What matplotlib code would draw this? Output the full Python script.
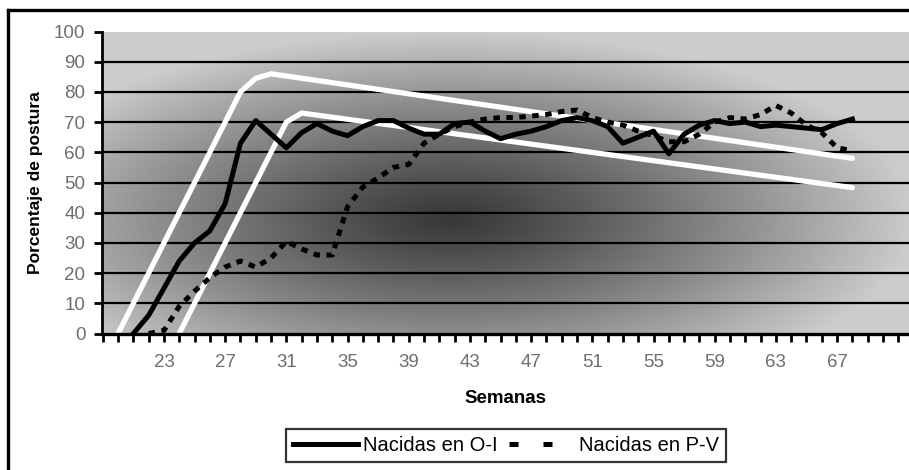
import numpy as np
import matplotlib
matplotlib.use("Agg")
import matplotlib.pyplot as plt
from matplotlib.lines import Line2D

plt.rcParams['font.family'] = ['Liberation Sans', 'DejaVu Sans']

# weekly laying percentage, hens born in autumn-winter (O-I)
weeks_oi = list(range(21, 69))
postura_oi = [0, 6, 15, 24, 30, 34, 43, 63, 70.5, 66,
              61.5, 66.5, 69.5, 67, 65.5, 68.5, 70.5, 70.5, 68, 66,
              66, 69.5, 70, 67, 64.5, 66, 67, 68.5, 70.5, 71.5,
              70.5, 68.5, 63, 65, 67, 59.5, 66, 69, 70.5, 69.5,
              70, 68.5, 69, 68.5, 68, 67.5, 69.5, 71]

# hens born in spring-summer (P-V)
weeks_pv = list(range(22, 69))
postura_pv = [0, 1, 9, 14, 18.5, 22, 24, 22, 25, 30.5,
              28, 26, 26, 42, 48.5, 51.5, 55, 56, 63, 66,
              68.5, 70, 71, 71.5, 71.5, 72, 72.5, 73.5, 74, 71.5,
              70, 69, 67, 65.5, 63.5, 63.5, 66, 70, 71.5, 71,
              72.5, 75.5, 73, 69, 66.5, 61.5, 60.5]

# white reference curves (breed standard)
weeks_std_hi = [20, 28, 29, 30, 68]
std_hi = [0, 80, 84.5, 86, 58]
weeks_std_lo = [24, 31, 32, 68]
std_lo = [0, 70, 73, 48.3]

tick_weeks = list(range(19, 72))
label_weeks = list(range(23, 68, 4))

fig = plt.figure(figsize=(9.09, 4.70), dpi=100)
ax = fig.add_axes([102 / 909, 136.5 / 470, 807 / 909, 302 / 470])
x0, x1 = 18.95, 71.7
ax.set_xlim(x0, x1)
ax.set_ylim(0, 100)

# grey background, dark in the middle
u = np.linspace(0, 1, 400)
v = np.linspace(0, 1, 200)
U, V = np.meshgrid(u, v)
r = np.sqrt(((U - 0.43) / 0.58) ** 2 + ((V - 0.38) / 0.62) ** 2)
shade = 0.22 + 0.58 * np.clip(r, 0, 1) ** 1.15
ax.imshow(shade, extent=[x0, x1, 0, 100], origin='lower', aspect='auto',
          cmap='gray', vmin=0, vmax=1, zorder=0, interpolation='bilinear')

for g in range(10, 100, 10):
    ax.axhline(g, color='black', lw=1.6, zorder=1)

ax.plot(weeks_std_hi, std_hi, color='white', lw=3.8, solid_joinstyle='round',
        solid_capstyle='round', zorder=2)
ax.plot(weeks_std_lo, std_lo, color='white', lw=3.8, solid_joinstyle='round',
        solid_capstyle='round', zorder=2)
ax.plot(weeks_oi, postura_oi, color='black', lw=3.6, solid_joinstyle='round',
        zorder=3)
ax.plot(weeks_pv, postura_pv, color='black', lw=3.6, linestyle=(0, (1.3, 1.3)),
        dash_capstyle='butt', zorder=3)

for s in ['top', 'right']:
    ax.spines[s].set_visible(False)
ax.spines['left'].set_linewidth(2)
ax.spines['bottom'].set_linewidth(2.4)

ax.set_yticks(range(0, 101, 10))
ax.set_xticks(tick_weeks)
ax.set_xticklabels([str(w) if w in label_weeks else '' for w in tick_weeks])
ax.tick_params(axis='both', direction='out', length=6, width=2, color='black',
               labelcolor='#6e6e6e', labelsize=13.5)
ax.tick_params(axis='y', pad=6)
ax.tick_params(axis='x', pad=9)

ax.set_ylabel('Porcentaje de postura', fontsize=12.5, fontweight='bold')
ax.yaxis.label.set_va('center')
ax.yaxis.set_label_coords(-0.083, 0.5)
ax.set_xlabel('Semanas', fontsize=13.5, fontweight='bold')
ax.xaxis.label.set_va('center')
ax.xaxis.set_label_coords(0.5, -0.215)

handles = [Line2D([], [], color='black', lw=3.6),
           Line2D([], [], color='black', lw=3.6, linestyle=(0, (1.8, 5)),
                  dash_capstyle='butt')]
leg = fig.legend(handles, ['Nacidas en O-I', 'Nacidas en P-V'], ncol=2,
                 loc='center', bbox_to_anchor=(506 / 909, 1 - 445.5 / 470),
                 fontsize=14.5, frameon=True, fancybox=False, borderpad=0.35,
                 handlelength=3.2, handletextpad=0.25, columnspacing=0.6,
                 borderaxespad=0)
leg.get_frame().set_edgecolor('black')
leg.get_frame().set_linewidth(1.6)

# outer chart frame (only top and left edges are in the picture)
fig.add_artist(Line2D([8 / 909, 1], [1 - 10 / 470] * 2, color='black', lw=2.4,
                      transform=fig.transFigure))
fig.add_artist(Line2D([8 / 909] * 2, [0, 1 - 10 / 470], color='black', lw=2.4,
                      transform=fig.transFigure))

fig.savefig('out.png', dpi=100)
